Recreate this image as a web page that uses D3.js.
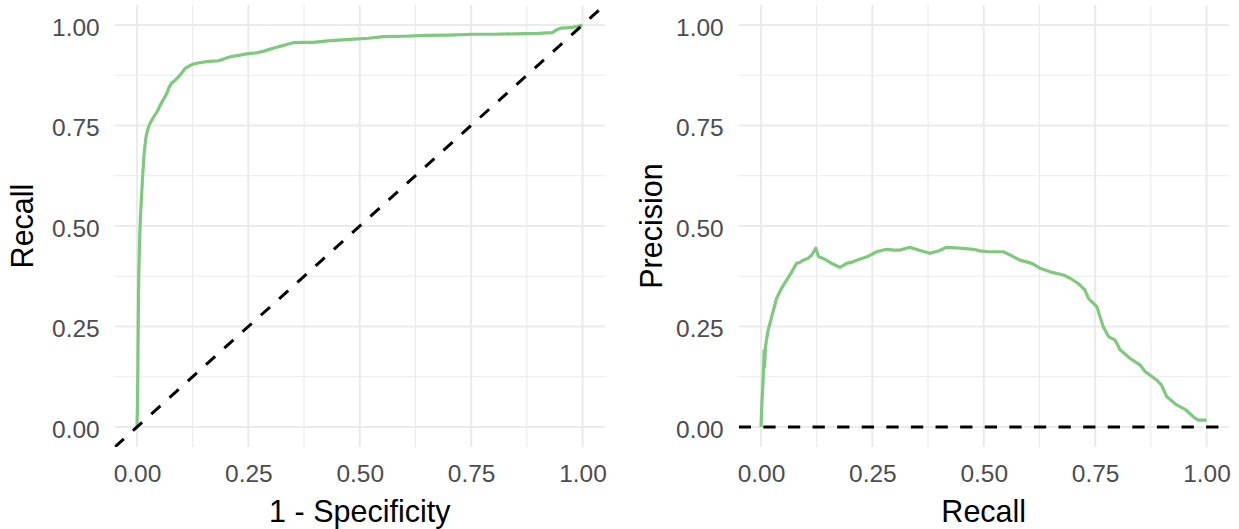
<!DOCTYPE html>
<html>
<head>
<meta charset="utf-8">
<script src="https://cdn.jsdelivr.net/npm/d3@7"></script>
<style>
  html, body { margin: 0; padding: 0; background: #fff; }
  svg { display: block; font-family: "Liberation Sans", Arial, sans-serif; }
</style>
</head>
<body>
<svg id="chart" width="1239" height="529"></svg>
<script>
// ROC curve: false positive rate (1 - specificity) vs. true positive rate (recall)
const rocFpr = [0, 0.001, 0.002, 0.003, 0.004, 0.006, 0.008, 0.010, 0.013, 0.016,
  0.020, 0.024, 0.029, 0.034, 0.040, 0.046, 0.052, 0.058, 0.063, 0.067,
  0.072, 0.078, 0.085, 0.093, 0.100, 0.108, 0.117, 0.127, 0.140, 0.157,
  0.170, 0.183, 0.196, 0.209, 0.225, 0.246, 0.269, 0.285, 0.299, 0.312,
  0.325, 0.338, 0.351, 0.375, 0.396, 0.434, 0.479, 0.520, 0.553, 0.600,
  0.650, 0.700, 0.756, 0.800, 0.850, 0.900, 0.932, 0.942, 0.951, 0.965,
  0.977, 0.990, 1.0];
const rocTpr = [0, 0.05, 0.15, 0.28, 0.38, 0.47, 0.53, 0.57, 0.63, 0.68,
  0.72, 0.74, 0.755, 0.765, 0.776, 0.786, 0.80, 0.812, 0.822, 0.830,
  0.845, 0.856, 0.862, 0.871, 0.880, 0.892, 0.898, 0.903, 0.906, 0.909,
  0.910, 0.911, 0.916, 0.921, 0.924, 0.928, 0.931, 0.935, 0.940, 0.944,
  0.948, 0.952, 0.956, 0.957, 0.957, 0.961, 0.964, 0.967, 0.971, 0.972,
  0.974, 0.975, 0.977, 0.977, 0.978, 0.979, 0.981, 0.988, 0.992, 0.993,
  0.994, 0.997, 1.0];

// Precision-recall curve
const prRecall = [0, 0.002, 0.004, 0.006, 0.007, 0.008, 0.010, 0.016, 0.024, 0.035,
  0.046, 0.058, 0.069, 0.080, 0.088, 0.095, 0.106, 0.114, 0.123, 0.129,
  0.138, 0.147, 0.157, 0.166, 0.177, 0.185, 0.192, 0.204, 0.215, 0.228,
  0.241, 0.260, 0.282, 0.298, 0.312, 0.334, 0.357, 0.379, 0.398, 0.417,
  0.447, 0.477, 0.491, 0.510, 0.544, 0.559, 0.581, 0.608, 0.626, 0.649,
  0.679, 0.694, 0.712, 0.727, 0.735, 0.754, 0.761, 0.768, 0.780, 0.795,
  0.806, 0.828, 0.851, 0.862, 0.888, 0.899, 0.911, 0.933, 0.952, 0.974,
  0.982, 1.0];
const prPrecision = [0, 0.06, 0.10, 0.15, 0.19, 0.15, 0.20, 0.241, 0.274, 0.32,
  0.345, 0.366, 0.386, 0.407, 0.410, 0.415, 0.420, 0.428, 0.445, 0.424,
  0.420, 0.415, 0.408, 0.403, 0.397, 0.402, 0.407, 0.410, 0.415, 0.420,
  0.425, 0.436, 0.442, 0.440, 0.440, 0.447, 0.439, 0.432, 0.438, 0.447,
  0.445, 0.442, 0.438, 0.436, 0.436, 0.428, 0.415, 0.407, 0.395, 0.386,
  0.378, 0.370, 0.357, 0.341, 0.32, 0.299, 0.274, 0.25, 0.225, 0.216,
  0.192, 0.171, 0.154, 0.138, 0.117, 0.104, 0.075, 0.055, 0.044, 0.022,
  0.017, 0.017];

const majorTicks = [0, 0.25, 0.5, 0.75, 1];
const minorTicks = [0.125, 0.375, 0.625, 0.875];
const tickLabels = ["0.00", "0.25", "0.50", "0.75", "1.00"];

const lineColor = "#7FC97F";
const svg = d3.select("#chart");

function panel(opts) {
  const { id, x0, x1, y0, y1, xs, ys, xTitle, yTitle, yTitleX, refLine } = opts;
  const pad = 0.05;
  // 0 maps to x0/y0 and 1 maps to x1/y1; the panel extends 5% beyond
  const x = d3.scaleLinear().domain([0, 1]).range([x0, x1]);
  const y = d3.scaleLinear().domain([0, 1]).range([y0, y1]);
  const left = x(-pad), right = x(1 + pad), top = y(1 + pad), bottom = y(-pad);

  const g = svg.append("g");

  svg.append("defs").append("clipPath").attr("id", id)
    .append("rect").attr("x", left).attr("y", top)
    .attr("width", right - left).attr("height", bottom - top);

  // grid
  const grid = g.append("g");
  grid.selectAll(".vminor").data(minorTicks).join("line")
    .attr("x1", d => x(d)).attr("x2", d => x(d)).attr("y1", top).attr("y2", bottom)
    .attr("stroke", "#EBEBEB").attr("stroke-width", 1.1);
  grid.selectAll(".hminor").data(minorTicks).join("line")
    .attr("y1", d => y(d)).attr("y2", d => y(d)).attr("x1", left).attr("x2", right)
    .attr("stroke", "#EBEBEB").attr("stroke-width", 1.1);
  grid.selectAll(".vmajor").data(majorTicks).join("line")
    .attr("x1", d => x(d)).attr("x2", d => x(d)).attr("y1", top).attr("y2", bottom)
    .attr("stroke", "#EBEBEB").attr("stroke-width", 2.1);
  grid.selectAll(".hmajor").data(majorTicks).join("line")
    .attr("y1", d => y(d)).attr("y2", d => y(d)).attr("x1", left).attr("x2", right)
    .attr("stroke", "#EBEBEB").attr("stroke-width", 2.1);

  // curve
  const pts = xs.map((v, i) => [v, ys[i]]);
  g.append("path").datum(pts)
    .attr("d", d3.line().x(d => x(d[0])).y(d => y(d[1])))
    .attr("fill", "none").attr("stroke", lineColor)
    .attr("stroke-width", 3.2).attr("stroke-linejoin", "round");

  // reference line
  const ref = g.append("g").attr("clip-path", `url(#${id})`);
  const refPts = refLine === "diag" ? [[-pad, -pad], [1 + pad, 1 + pad]] : [[-pad, 0], [1 + pad, 0]];
  ref.append("line")
    .attr("x1", x(refPts[0][0])).attr("y1", y(refPts[0][1]))
    .attr("x2", x(refPts[1][0])).attr("y2", y(refPts[1][1]))
    .attr("stroke", "#000").attr("stroke-width", 3)
    .attr("stroke-dasharray", "12.3,12.3");

  // axes (text only, minimal style)
  const xAxis = d3.axisBottom(x).tickValues(majorTicks).tickFormat((d, i) => tickLabels[i]).tickSize(0).tickPadding(0);
  const xa = g.append("g").attr("transform", `translate(0,${bottom})`).call(xAxis);
  xa.select(".domain").remove();
  xa.selectAll("text").attr("y", 35).attr("dy", null)
    .attr("font-size", 24.5).attr("fill", "#4D4D4D").attr("font-family", "Liberation Sans, Arial, sans-serif");

  const yAxis = d3.axisLeft(y).tickValues(majorTicks).tickFormat((d, i) => tickLabels[i]).tickSize(0).tickPadding(0);
  const ya = g.append("g").attr("transform", `translate(${left - 15},0)`).call(yAxis);
  ya.select(".domain").remove();
  ya.selectAll("text").attr("x", 0).attr("dy", "0.42em")
    .attr("font-size", 24.5).attr("fill", "#4D4D4D").attr("font-family", "Liberation Sans, Arial, sans-serif");

  // titles
  g.append("text").attr("x", (x0 + x1) / 2).attr("y", 521.5)
    .attr("text-anchor", "middle").attr("font-size", 30.5).attr("fill", "#000")
    .text(xTitle);
  g.append("text")
    .attr("transform", `translate(${yTitleX},${(top + bottom) / 2}) rotate(-90)`)
    .attr("text-anchor", "middle").attr("font-size", 30.5).attr("fill", "#000")
    .text(yTitle);
}

panel({ id: "clipRoc", x0: 137, x1: 582.5, y0: 427, y1: 25,
  xs: rocFpr, ys: rocTpr, xTitle: "1 - Specificity", yTitle: "Recall",
  yTitleX: 33.3, refLine: "diag" });

panel({ id: "clipPr", x0: 761, x1: 1206.5, y0: 427, y1: 25,
  xs: prRecall, ys: prPrecision, xTitle: "Recall", yTitle: "Precision",
  yTitleX: 661.5, refLine: "h0" });
</script>
</body>
</html>
